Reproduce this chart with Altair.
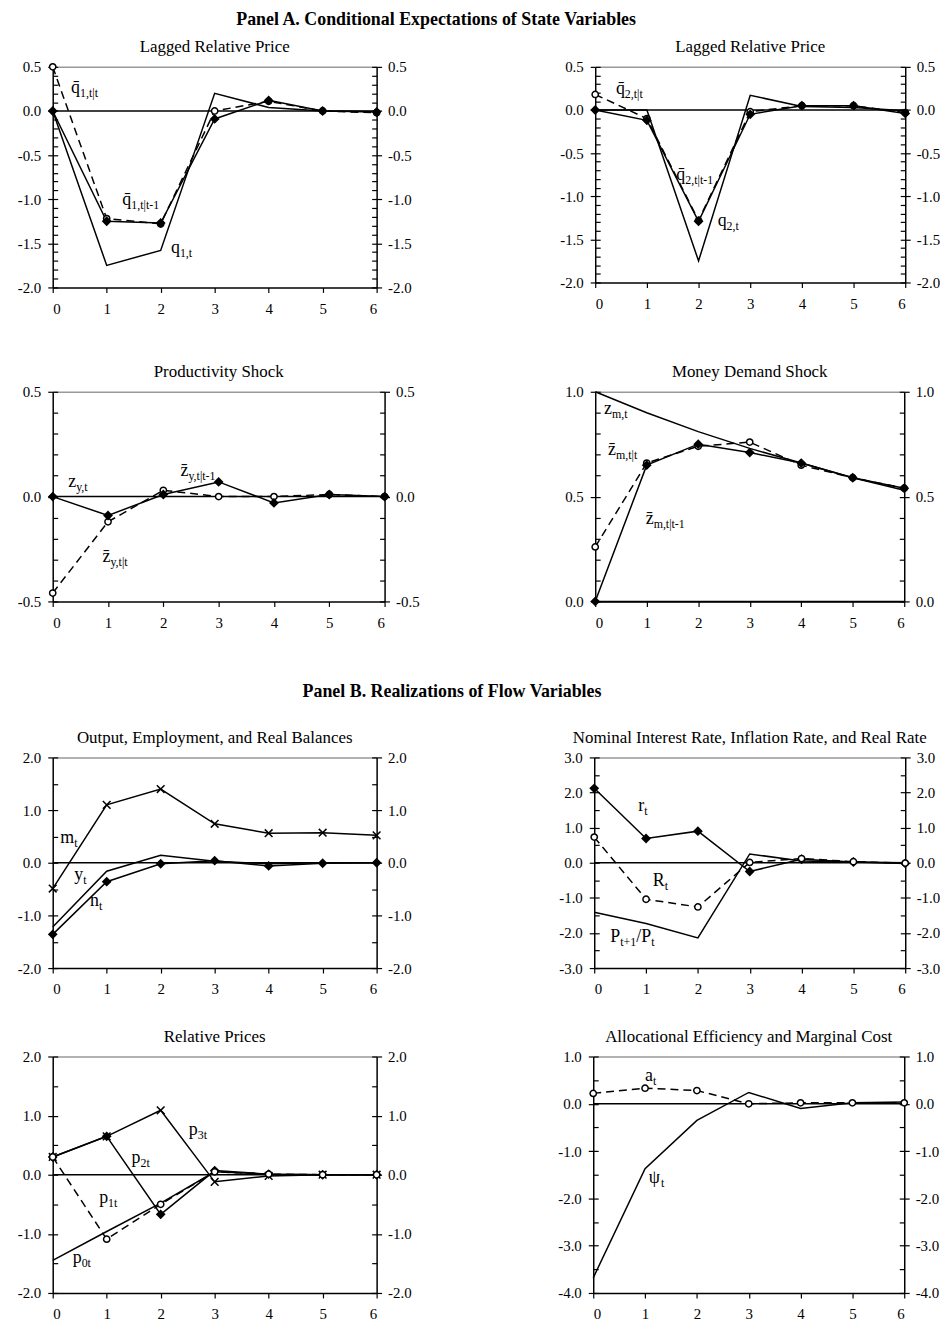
import altair as alt
import pandas as pd

FONT = "Liberation Serif"

T = [0, 1, 2, 3, 4, 5, 6]
ZERO = [0, 0, 0, 0, 0, 0, 0]

# ---- Panel A: conditional expectations of state variables ----
q1_t = [0.00, -1.75, -1.58, 0.20, 0.04, 0.00, -0.01]
q1_tt = [0.50, -1.22, -1.28, 0.00, 0.11, 0.00, -0.02]
q1_tt1 = [0.00, -1.25, -1.27, -0.09, 0.12, 0.00, -0.01]

q2_t = [0.00, 0.00, -1.75, 0.17, 0.04, 0.03, -0.01]
q2_tt = [0.18, -0.10, -1.28, -0.02, 0.05, 0.05, -0.03]
q2_tt1 = [0.00, -0.12, -1.29, -0.05, 0.05, 0.05, -0.04]

zy_tt = [-0.46, -0.12, 0.03, 0.00, 0.00, 0.01, 0.00]
zy_tt1 = [0.00, -0.09, 0.01, 0.07, -0.03, 0.01, 0.00]

zm_t = [1.00, 0.90, 0.81, 0.73, 0.66, 0.59, 0.53]
zm_tt = [0.26, 0.66, 0.74, 0.76, 0.65, 0.59, 0.54]
zm_tt1 = [0.00, 0.65, 0.75, 0.71, 0.66, 0.59, 0.54]

# ---- Panel B: realizations of flow variables ----
m_t = [-0.49, 1.10, 1.40, 0.74, 0.56, 0.57, 0.52]
y_t = [-1.22, -0.16, 0.14, 0.03, -0.02, 0.00, 0.00]
n_t = [-1.36, -0.36, -0.02, 0.04, -0.06, -0.01, 0.00]

r_t = [2.12, 0.69, 0.90, -0.25, 0.10, 0.02, -0.02]
R_t = [0.73, -1.04, -1.26, 0.01, 0.12, 0.03, -0.01]
infl_t = [-1.41, -1.73, -2.14, 0.25, 0.05, 0.02, 0.00]

p3_t = [0.30, 0.65, 1.09, -0.12, -0.02, 0.00, 0.00]
p2_t = [0.30, 0.65, -0.67, 0.07, 0.01, 0.00, 0.00]
p1_t = [0.30, -1.09, -0.50, 0.05, 0.01, 0.00, 0.00]
p0_t = [-1.45, -0.96, -0.48, 0.05, 0.01, 0.00, 0.00]

a_t = [0.22, 0.33, 0.28, 0.00, 0.02, 0.02, 0.02]
psi_t = [-3.68, -1.37, -0.35, 0.24, -0.10, 0.02, 0.04]

BAR = "\u0304"
# labels: (x, y, [(text, kind)]) kind m = main, s = subscript
lab_q1 = [(0.34, 0.20, [("q" + BAR, "m"), ("1,t|t", "s")]),
          (1.29, -1.07, [("q" + BAR, "m"), ("1,t|t-1", "s")]),
          (2.19, -1.615, [("q", "m"), ("1,t", "s")])]
lab_q2 = [(0.40, 0.185, [("q" + BAR, "m"), ("2,t|t", "s")]),
          (1.57, -0.81, [("q" + BAR, "m"), ("2,t|t-1", "s")]),
          (2.37, -1.35, [("q", "m"), ("2,t", "s")])]
lab_zy = [(0.28, 0.048, [("z", "m"), ("y,t", "s")]),
          (2.31, 0.097, [("z" + BAR, "m"), ("y,t|t-1", "s")]),
          (0.90, -0.31, [("z" + BAR, "m"), ("y,t|t", "s")])]
lab_zm = [(0.17, 0.896, [("z", "m"), ("m,t", "s")]),
          (0.25, 0.70, [("z" + BAR, "m"), ("m,t|t", "s")]),
          (0.98, 0.368, [("z" + BAR, "m"), ("m,t|t-1", "s")])]
lab_out = [(0.14, 0.38, [("m", "m"), ("t", "s")]),
           (0.40, -0.32, [("y", "m"), ("t", "s")]),
           (0.69, -0.83, [("n", "m"), ("t", "s")])]
lab_rate = [(0.85, 1.47, [("r", "m"), ("t", "s")]),
            (1.13, -0.67, [("R", "m"), ("t", "s")]),
            (0.31, -2.27, [("P", "m"), ("t+1", "s"), ("/P", "m"), ("t", "s")])]
lab_rel = [(2.52, 0.67, [("p", "m"), ("3t", "s")]),
           (1.46, 0.19, [("p", "m"), ("2t", "s")]),
           (0.86, -0.48, [("p", "m"), ("1t", "s")]),
           (0.37, -1.49, [("p", "m"), ("0t", "s")])]
lab_alloc = [(1.00, 0.49, [("a", "m"), ("t", "s")]),
             (1.07, -1.68, [("\u03c8", "m"), ("t", "s")])]

MAIN = 18
SUB = 12
CW = {"q": 0.5, "z": 0.444, "m": 0.778, "y": 0.5, "n": 0.5, "r": 0.333,
      "R": 0.667, "a": 0.444, "p": 0.5, "P": 0.556, "/": 0.278,
      "\u03c8": 0.686, "t": 0.278, ",": 0.25, "|": 0.2, "+": 0.564, "-": 0.333}


def text_width(s, size):
    return sum(CW.get(c, 0.5) for c in s if c != BAR) * size


def ticks(lo, hi, step):
    n = int(round((hi - lo) / step))
    return [round(lo + i * step, 4) for i in range(n + 1)]


LABEL_EXPR = "replace(format(datum.value, '.1f'), '\u2212', '-')"


def panel(title, w, h, ydom, major, minor, series, labels, el, er):
    xsc = alt.Scale(domain=[0, 6], nice=False, zero=False)
    ysc = alt.Scale(domain=ydom, nice=False, zero=False)
    xbottom = alt.Axis(orient="bottom", values=T, format="d", tickSize=5,
                       labelPadding=9, title=None, grid=False)
    xtop = alt.Axis(orient="top", labels=False, ticks=False, domainColor="#999999",
                    domainWidth=1.5, title=None, grid=False)
    yleft = alt.Axis(orient="left", values=major, labelExpr=LABEL_EXPR, tickSize=5,
                     labelPadding=7, minExtent=el, title=None, grid=False)
    yright = alt.Axis(orient="right", values=major, labelExpr=LABEL_EXPR, tickSize=5,
                      labelPadding=6, minExtent=er, title=None, grid=False)
    yleft_m = alt.Axis(orient="left", values=minor, labels=False, domain=False,
                       tickSize=5, offset=-5, title=None, grid=False)
    yright_m = alt.Axis(orient="right", values=minor, labels=False, domain=False,
                        tickSize=5, offset=-5, title=None, grid=False)

    zdf = pd.DataFrame({"t": T, "v": ZERO})
    zb = alt.Chart(zdf)
    layers = [
        zb.mark_line(color="black", strokeWidth=1.5).encode(
            x=alt.X("t:Q", scale=xsc, axis=xbottom),
            y=alt.Y("v:Q", scale=ysc, axis=yleft)),
        zb.mark_line(opacity=0).encode(
            x=alt.X("t:Q", scale=xsc, axis=xtop),
            y=alt.Y("v:Q", scale=ysc, axis=yright)),
        zb.mark_line(opacity=0).encode(
            x=alt.X("t:Q", scale=xsc, axis=None),
            y=alt.Y("v:Q", scale=ysc, axis=yleft_m)),
        zb.mark_line(opacity=0).encode(
            x=alt.X("t:Q", scale=xsc, axis=None),
            y=alt.Y("v:Q", scale=ysc, axis=yright_m)),
    ]
    enc = dict(x=alt.X("t:Q", scale=xsc, axis=None),
               y=alt.Y("v:Q", scale=ysc, axis=None))
    marks = []
    for vals, dashed, marker in series:
        df = pd.DataFrame({"t": T, "v": vals})
        ch = alt.Chart(df)
        kw = dict(color="black", strokeWidth=1.5)
        if dashed:
            kw["strokeDash"] = [8, 5]
        layers.append(ch.mark_line(**kw).encode(**enc))
        if marker == "diamond":
            marks.append(ch.mark_point(shape="diamond", filled=True, fill="black",
                                       stroke="black", size=50, opacity=1).encode(**enc))
        elif marker == "circle":
            marks.append(ch.mark_point(shape="circle", filled=True, fill="white",
                                       stroke="black", strokeWidth=1.5, size=40,
                                       opacity=1).encode(**enc))
        elif marker == "x":
            marks.append(ch.mark_point(shape="M-1,-1L1,1M-1,1L1,-1", filled=False,
                                       stroke="black", strokeWidth=1.5, size=60,
                                       opacity=1).encode(**enc))
    layers += marks

    rows_m, rows_s = [], []
    for x, y, segs in labels:
        px = 0.0
        for txt, kind in segs:
            xd = x + px * 6.0 / w
            if kind == "m":
                rows_m.append({"t": xd, "v": y, "txt": txt})
                px += text_width(txt, MAIN)
            else:
                rows_s.append({"t": xd, "v": y, "txt": txt})
                px += text_width(txt, SUB)
    tenc = dict(enc, text="txt:N")
    layers.append(alt.Chart(pd.DataFrame(rows_m)).mark_text(
        align="left", baseline="alphabetic", font=FONT, fontSize=MAIN,
        color="black").encode(**tenc))
    layers.append(alt.Chart(pd.DataFrame(rows_s)).mark_text(
        align="left", baseline="alphabetic", font=FONT, fontSize=SUB, dy=4,
        color="black").encode(**tenc))

    return alt.layer(*layers).resolve_scale(y="independent").resolve_axis(
        x="independent", y="independent").properties(
        width=w, height=h,
        title=alt.TitleParams(title, font=FONT, fontSize=17, fontWeight="normal",
                              anchor="middle", frame="group", offset=4, color="black"))


p1 = panel("Lagged Relative Price", 326, 222, [-2.0, 0.5], ticks(-2.0, 0.5, 0.5),
           ticks(-2.0, 0.5, 0.1),
           [(q1_t, False, None), (q1_tt, True, "circle"), (q1_tt1, False, "diamond")],
           lab_q1, 45, 36)
p2 = panel("Lagged Relative Price", 312, 217, [-2.0, 0.5], ticks(-2.0, 0.5, 0.5),
           ticks(-2.0, 0.5, 0.1),
           [(q2_t, False, None), (q2_tt, True, "circle"), (q2_tt1, False, "diamond")],
           lab_q2, 40, 34)
p3 = panel("Productivity Shock", 334, 211, [-0.5, 0.5], ticks(-0.5, 0.5, 0.5),
           ticks(-0.5, 0.5, 0.1),
           [(zy_tt, True, "circle"), (zy_tt1, False, "diamond")],
           lab_zy, 45, 36)
p4 = panel("Money Demand Shock", 311, 211, [0.0, 1.0], ticks(0.0, 1.0, 0.5),
           ticks(0.0, 1.0, 0.1),
           [(zm_t, False, None), (zm_tt, True, "circle"), (zm_tt1, False, "diamond")],
           lab_zm, 40, 34)
p5 = panel("Output, Employment, and Real Balances", 326, 212, [-2.0, 2.0],
           ticks(-2.0, 2.0, 1.0), ticks(-2.0, 2.0, 0.5),
           [(m_t, False, "x"), (y_t, False, None), (n_t, False, "diamond")],
           lab_out, 45, 36)
p6 = panel("Nominal Interest Rate, Inflation Rate, and Real Rate", 313, 212, [-3.0, 3.0],
           ticks(-3.0, 3.0, 1.0), ticks(-3.0, 3.0, 0.5),
           [(r_t, False, "diamond"), (R_t, True, "circle"), (infl_t, False, None)],
           lab_rate, 40, 34)
p7 = panel("Relative Prices", 326, 238, [-2.0, 2.0], ticks(-2.0, 2.0, 1.0),
           ticks(-2.0, 2.0, 0.5),
           [(p3_t, False, "x"), (p2_t, False, "diamond"), (p1_t, True, "circle"),
            (p0_t, False, None)],
           lab_rel, 45, 36)
p8 = panel("Allocational Efficiency and Marginal Cost", 313, 238, [-4.0, 1.0],
           ticks(-4.0, 1.0, 1.0), ticks(-4.0, 1.0, 0.5),
           [(a_t, True, "circle"), (psi_t, False, None)],
           lab_alloc, 40, 34)

row1 = alt.hconcat(p1, p2, spacing=144)
row2 = alt.hconcat(p3, p4, spacing=136)
row3 = alt.hconcat(p5, p6, spacing=143)
row4 = alt.hconcat(p7, p8, spacing=142)

sect_a = alt.vconcat(row1, row2, spacing=47, title=alt.TitleParams(
    "Panel A. Conditional Expectations of State Variables", font=FONT, fontSize=18,
    fontWeight="bold", anchor="middle", offset=9, dx=-38, color="black"))
sect_b = alt.vconcat(row3, row4, spacing=31, title=alt.TitleParams(
    "Panel B. Realizations of Flow Variables", font=FONT, fontSize=18,
    fontWeight="bold", anchor="middle", offset=28, dx=-22, color="black"))

chart = alt.vconcat(sect_a, sect_b, spacing=53).properties(
    padding={"left": 0, "top": -1, "right": 0, "bottom": 0}
).configure_view(strokeOpacity=0).configure_axis(
    domainColor="black", domainWidth=1.5, tickColor="black", tickWidth=1.2,
    labelColor="black", labelFont=FONT, labelFontSize=15)

chart.save("out.html", embed_options={"renderer": "svg", "actions": False})
